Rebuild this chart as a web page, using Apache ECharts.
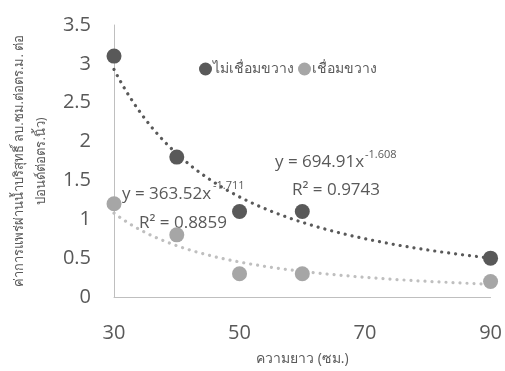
<!DOCTYPE html>
<html><head><meta charset="utf-8">
<script src="https://cdn.jsdelivr.net/npm/echarts@6/dist/echarts.min.js"></script>
<style>html,body{margin:0;padding:0;background:#fff}#c{width:505px;height:371px}</style>
</head><body><div id="c"></div>
<script>
const xValues = [30, 40, 50, 60, 90];
const notBridged = [3.1, 1.8, 1.1, 1.1, 0.5];
const bridged = [1.2, 0.8, 0.3, 0.3, 0.2];
const seriesNames = ['ไม่เชื่อมขวาง', 'เชื่อมขวาง'];
// Power trendline coefficients as printed on the chart
const trendNotBridged = [694.91, -1.608];
const trendBridged = [363.52, -1.711];
const trendLabels = ['y = 694.91x', '-1.608', 'R² = 0.9743', 'y = 363.52x', '-1.711', 'R² = 0.8859'];
const xTicks = [30, 50, 70, 90];
const yTitle = 'ค่าการแพร่ผ่านน้ำบริสุทธิ์ ลบ.ซม.ต่อตร.ม. ต่อ\nปอนด์ต่อตร.นิ้ว)';
const xTitle = 'ความยาว (ซม.)';

const FONT = '"Open Sans", "Noto Sans", sans-serif';
const DARK = '#595959', LIGHT = '#A6A6A6', TXT = '#595959';

function trend(c) {
  const pts = [];
  for (let x = 30; x <= 90.0001; x += 0.5) pts.push([x, c[0] * Math.pow(x, c[1])]);
  return pts;
}
const chart = echarts.init(document.getElementById('c'), null, {renderer: 'canvas'});
const dots = {type: [0.01, 7], cap: 'round', width: 3.2};
function lbl(text, x, y, size) {
  return {type: 'text', x: x, y: y, style: {text: text, fill: TXT, fontSize: size, fontFamily: FONT, align: 'left', verticalAlign: 'middle'}};
}
chart.setOption({
  animation: false,
  grid: {left: 113, right: 13, top: 25, bottom: 74},
  legend: {
    top: 57, left: 194, itemGap: 4, itemWidth: 13, itemHeight: 13,
    icon: 'circle', data: seriesNames,
    textStyle: {color: TXT, fontSize: 14, fontFamily: FONT, padding: [0, 0, 0, -4]}
  },
  xAxis: {
    type: 'value', min: 30, max: 90, interval: 20,
    name: xTitle, nameLocation: 'middle', nameGap: 55,
    nameTextStyle: {color: TXT, fontSize: 14, fontFamily: FONT},
    axisLine: {show: true, lineStyle: {color: '#BFBFBF', width: 1}},
    axisTick: {show: false}, splitLine: {show: false},
    axisLabel: {color: TXT, fontSize: 20, fontFamily: FONT, margin: 26}
  },
  yAxis: {
    type: 'value', min: 0, max: 3.5, interval: 0.5,
    name: yTitle, nameLocation: 'middle', nameGap: 60, nameRotate: 90,
    nameTextStyle: {color: TXT, fontSize: 13, fontFamily: FONT, lineHeight: 22},
    axisLine: {show: true, lineStyle: {color: '#BFBFBF', width: 1}},
    axisTick: {show: false}, splitLine: {show: false},
    axisLabel: {color: TXT, fontSize: 20, fontFamily: FONT, margin: 23}
  },
  series: [
    {name: 'trend1', type: 'line', data: trend(trendNotBridged), showSymbol: false, symbol: 'none',
      lineStyle: Object.assign({color: DARK}, dots), silent: true, z: 1},
    {name: 'trend2', type: 'line', data: trend(trendBridged), showSymbol: false, symbol: 'none',
      lineStyle: Object.assign({color: '#BFBFBF'}, dots), silent: true, z: 1},
    {name: seriesNames[0], type: 'scatter', symbolSize: 15, itemStyle: {color: DARK, opacity: 1},
      data: xValues.map((x, i) => [x, notBridged[i]]), z: 3},
    {name: seriesNames[1], type: 'scatter', symbolSize: 15, itemStyle: {color: LIGHT, opacity: 1},
      data: xValues.map((x, i) => [x, bridged[i]]), z: 3}
  ],
  graphic: [
    lbl(trendLabels[0], 275, 162, 17),
    lbl(trendLabels[1], 365, 155, 11),
    lbl(trendLabels[2], 292, 190, 17),
    lbl(trendLabels[3], 122, 194, 17),
    lbl(trendLabels[4], 213, 186, 11),
    lbl(trendLabels[5], 139, 223, 17)
  ]
});
</script></body></html>
